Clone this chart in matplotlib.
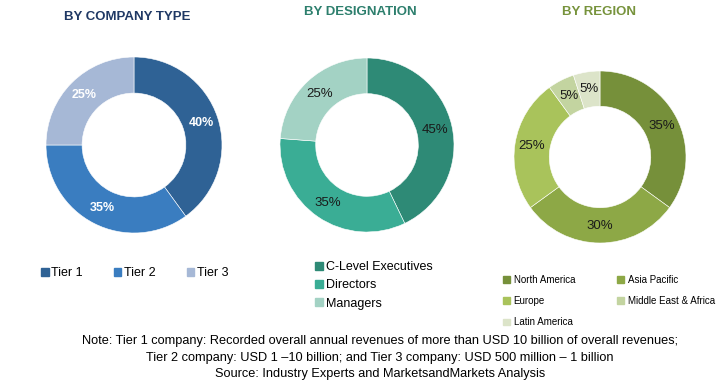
import matplotlib
matplotlib.use('Agg')
import matplotlib.pyplot as plt
from matplotlib.patches import Patch

W, H = 718, 387

company_labels = ['Tier 1', 'Tier 2', 'Tier 3']
company_values = [40, 35, 25]
company_colors = ['#2F6295', '#3A7DC0', '#A6B8D6']

desig_labels = ['C-Level Executives', 'Directors', 'Managers']
desig_values = [45, 35, 25]
desig_colors = ['#2E8A76', '#3AAD95', '#A3D2C4']

region_labels = ['North America', 'Asia Pacific', 'Europe',
                 'Middle East & Africa', 'Latin America']
region_values = [35, 30, 25, 5, 5]
region_colors = ['#76903A', '#8DA846', '#A9C35B', '#C3D4A0', '#DCE4C9']

font = ['Liberation Sans', 'DejaVu Sans']

fig = plt.figure(figsize=(W / 100, H / 100), dpi=100)
fig.patch.set_facecolor('white')


def donut(cx, cy, r, values, colors, txtcolor, weight, fs):
    ax = fig.add_axes([(cx - r) / W, 1 - (cy + r) / H, 2 * r / W, 2 * r / H])
    wedges, texts, autotexts = ax.pie(
        values, colors=colors, startangle=90, counterclock=False,
        radius=1, autopct='%d%%', pctdistance=0.8,
        wedgeprops=dict(width=0.41, edgecolor='white', linewidth=0.4),
        textprops=dict(color=txtcolor, fontsize=fs, weight=weight,
                       family=font))
    # show the stated shares, as the source does, even where they don't sum to 100
    for t, v in zip(autotexts, values):
        t.set_text('%d%%' % v)
    ax.set_xlim(-1, 1)
    ax.set_ylim(-1, 1)
    ax.set_aspect('equal')
    ax.axis('off')
    return ax


donut(134, 145, 88, company_values, company_colors, 'white', 'bold', 9)
donut(367, 145, 87, desig_values, desig_colors, '#1a1a1a', 'normal', 9.5)
donut(600, 157, 86, region_values, region_colors, '#1a1a1a', 'normal', 9.5)

# titles
fig.text(127 / W, 1 - 17 / H, 'BY COMPANY TYPE', ha='center', va='center',
         fontsize=9.5, weight='bold', color='#1F3864', family=font)
fig.text(360 / W, 1 - 12 / H, 'BY DESIGNATION', ha='center', va='center',
         fontsize=9.5, weight='bold', color='#2D7F6D', family=font)
fig.text(599 / W, 1 - 12 / H, 'BY REGION', ha='center', va='center',
         fontsize=9.5, weight='bold', color='#77933C', family=font)

# legends
h1 = [Patch(color=c, label=l) for c, l in zip(company_colors, company_labels)]
fig.legend(handles=h1, loc='center left', bbox_to_anchor=(41 / W, 1 - 273 / H),
           ncol=3, frameon=False, handlelength=0.6, handleheight=0.6,
           handletextpad=0.2, columnspacing=2.5, borderaxespad=0, borderpad=0,
           prop=dict(family=font, size=9))

h2 = [Patch(color=c, label=l) for c, l in zip(desig_colors, desig_labels)]
fig.legend(handles=h2, loc='upper left', bbox_to_anchor=(315 / W, 1 - 261 / H),
           ncol=1, frameon=False, handlelength=0.6, handleheight=0.6,
           handletextpad=0.3, labelspacing=0.5, borderaxespad=0, borderpad=0,
           prop=dict(family=font, size=9))

order = [0, 2, 4, 1, 3]
h3 = [Patch(color=region_colors[i], label=region_labels[i]) for i in order]
fig.legend(handles=h3, loc='upper left', bbox_to_anchor=(503 / W, 1 - 275 / H),
           ncol=2, frameon=False, handlelength=0.7, handleheight=0.7,
           handletextpad=0.4, labelspacing=1.15, columnspacing=4.3,
           borderaxespad=0, borderpad=0,
           prop=dict(family=font, size=7))

notes = ['Note: Tier 1 company: Recorded overall annual revenues of more than USD 10 billion of overall revenues;',
         'Tier 2 company: USD 1 \u201310 billion; and Tier 3 company: USD 500 million \u2013 1 billion',
         'Source: Industry Experts and MarketsandMarkets Analysis']
for i, line in enumerate(notes):
    fig.text(380 / W, 1 - (341 + 16.5 * i) / H, line, ha='center', va='center',
             fontsize=9.2, color='black', family=font)

fig.savefig('out.png', dpi=100, facecolor='white')
